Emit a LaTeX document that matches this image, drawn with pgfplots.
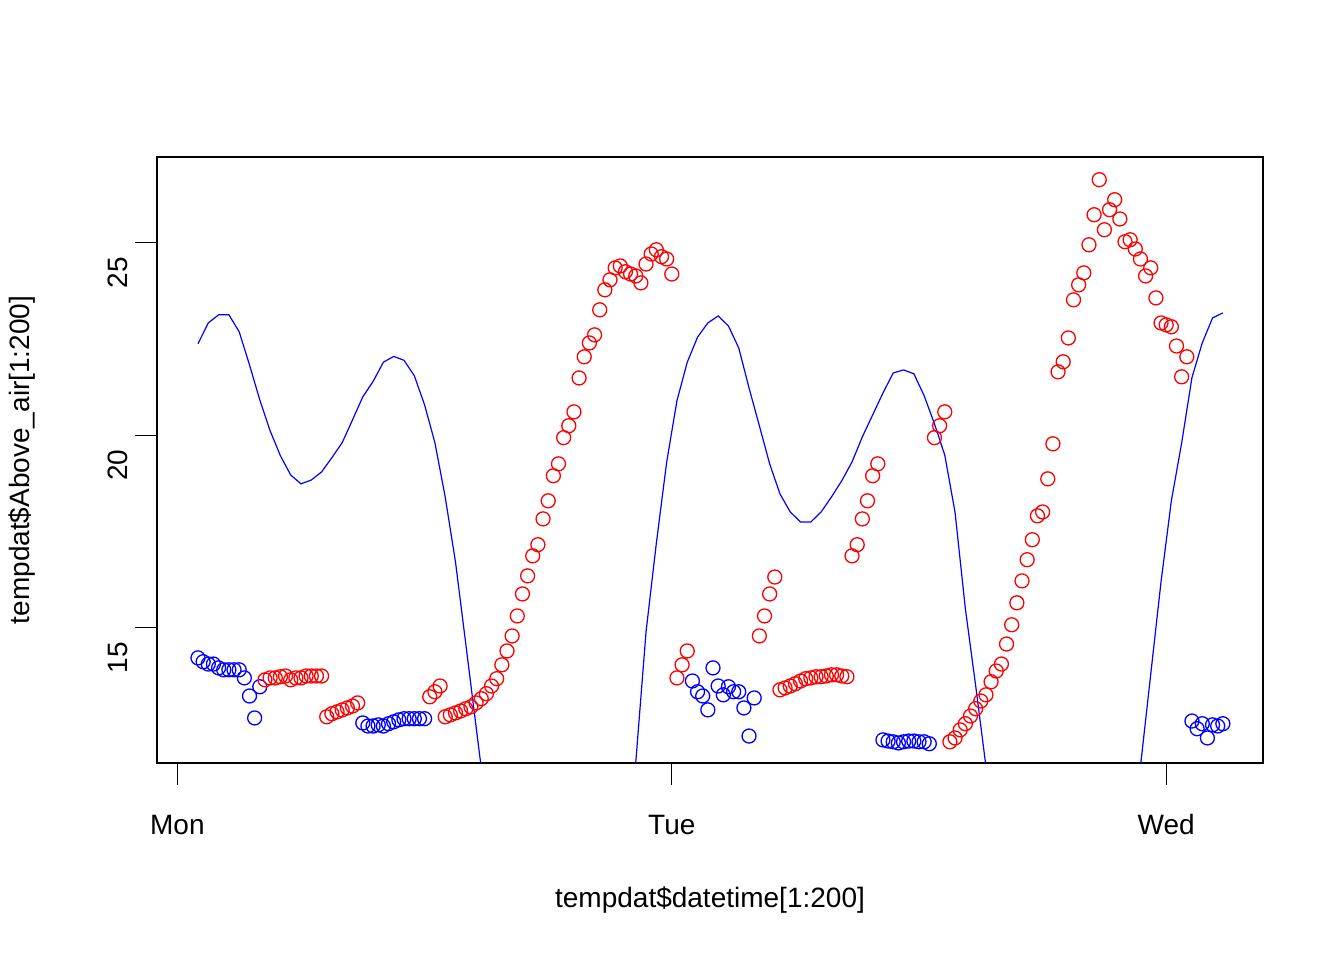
\documentclass[border=0pt]{standalone}
\usepackage{pgfplots}
\pgfplotsset{compat=1.18}
\usepackage{fontspec}
\setmainfont{Liberation Sans}
\begin{document}
\begin{tikzpicture}[x=1bp,y=1bp]
\path (0,0) rectangle (672,480);
\begin{axis}[at={(78.5bp,98.5bp)},anchor=south west,scale only axis,
 width=553bp,height=303bp,
 xmin=-7.96,xmax=206.8,ymin=11.49,ymax=27.23,
 axis line style={line width=0.6bp},
 xtick={-4,92,188},xticklabels={Mon,Tue,Wed},
 ytick={15,20,25},
 tick align=outside,major tick length=11bp,
 xtick pos=bottom,ytick pos=left,
 tick style={line width=0.6bp,black},
 /pgf/number format/assume math mode=true,
 ticklabel style={font=\fontsize{14bp}{16bp}\selectfont},
 xticklabel style={text height=10bp,text depth=0pt,yshift=-11bp},
 yticklabel style={rotate=90,anchor=south,xshift=-15bp},
 label style={font=\fontsize{14bp}{16bp}\selectfont},
 xlabel={tempdat\$datetime[1:200]},
 ylabel={tempdat\$Above\_air[1:200]},
 xlabel style={at={(axis description cs:0.5,0)},anchor=center,yshift=-68.5bp},
 ylabel style={at={(axis description cs:0,0.5)},anchor=center,yshift=67.5bp},
 clip=true]
\addplot[blue,line width=0.6bp] coordinates {
(0,22.38)(2,22.92)(4,23.13)(6,23.13)(8,22.69)(10,21.83)(12,20.92)(14,20.12)(16,19.47)(18,18.97)(20,18.74)(22,18.84)(24,19.05)(26,19.42)(28,19.81)(30,20.40)(32,21.00)(34,21.40)(36,21.90)(38,22.05)(40,21.95)(42,21.55)(44,20.79)(46,19.81)(48,18.40)(50,16.71)(52,14.58)(54,12.43)(56,10.3)(58,8.0)(62,5.0)(70,3.0)(78,5.0)(83,8.5)(85,11.5)(87,14.9)(89,17.2)(91,19.3)(93,20.9)(95,21.9)(97,22.55)(99,22.92)(101,23.10)(103,22.84)(105,22.27)(107,21.23)(109,20.25)(111,19.26)(113,18.48)(115,18.01)(117,17.75)(119,17.75)(121,18.01)(123,18.40)(125,18.82)(127,19.31)(129,19.96)(131,20.53)(133,21.10)(135,21.62)(137,21.70)(139,21.60)(141,21.03)(143,20.30)(145,19.49)(147,18.0)(149,15.5)(151,13.5)(153,11.4)(155,9.0)(160,5.0)(168,3.0)(176,5.0)(181,8.5)(183,11.4)(185,13.8)(187,16.2)(189,18.3)(191,19.8)(193,21.5)(195,22.4)(197,23.05)(199,23.18)};
\addplot[only marks,blue,mark=o,mark size=3.5bp,mark options={line width=0.65bp}] coordinates {
(0,14.22)(1,14.12)(2,14.06)(3,14.06)(4,13.96)(5,13.91)(6,13.91)(7,13.91)(8,13.91)(9,13.70)(10,13.23)(11,12.66)(12,13.47)
(32,12.53)(33,12.45)(34,12.45)(35,12.48)(36,12.45)(37,12.51)(38,12.56)(39,12.61)(40,12.64)(41,12.64)(42,12.64)(43,12.64)(44,12.64)
(96,13.62)(97,13.34)(98,13.23)(99,12.87)(100,13.96)(101,13.49)(102,13.26)(103,13.47)(104,13.34)(105,13.34)(106,12.92)(107,12.19)(108,13.18)
(133,12.09)(134,12.06)(135,12.04)(136,12.01)(137,12.04)(138,12.06)(139,12.06)(140,12.04)(141,12.04)(142,11.99)
(193,12.58)(194,12.38)(195,12.51)(196,12.14)(197,12.48)(198,12.45)(199,12.51)};
\addplot[only marks,red,mark=o,mark size=3.5bp,mark options={line width=0.65bp}] coordinates {
(13,13.65)(14,13.70)(15,13.70)(16,13.73)(17,13.75)(18,13.65)(19,13.70)(20,13.70)(21,13.75)(22,13.75)(23,13.75)(24,13.75)
(25,12.69)(26,12.77)(27,12.82)(28,12.87)(29,12.92)(30,12.97)(31,13.05)
(45,13.21)(46,13.34)(47,13.49)(48,12.69)(49,12.74)(50,12.79)(51,12.84)(52,12.90)(53,12.95)(54,13.05)(55,13.16)(56,13.29)(57,13.49)(58,13.68)(59,14.04)(60,14.40)(61,14.79)(62,15.31)(63,15.88)(64,16.35)(65,16.87)(66,17.16)(67,17.83)(68,18.30)(69,18.95)(70,19.26)(71,19.94)(72,20.25)(73,20.61)(74,21.49)(75,22.04)(76,22.40)(77,22.61)(78,23.26)(79,23.78)(80,24.04)(81,24.35)(82,24.40)(83,24.25)(84,24.19)(85,24.14)(86,23.96)(87,24.45)(88,24.71)(89,24.82)(90,24.64)(91,24.58)(92,24.19)
(93,13.70)(94,14.04)(95,14.40)
(109,14.79)(110,15.31)(111,15.88)(112,16.32)
(113,13.39)(114,13.44)(115,13.49)(116,13.55)(117,13.62)(118,13.68)(119,13.70)(120,13.73)(121,13.73)(122,13.75)(123,13.78)(124,13.78)(125,13.75)(126,13.73)
(127,16.87)(128,17.16)(129,17.83)(130,18.30)(131,18.95)(132,19.26)
(143,19.94)(144,20.25)(145,20.61)
(146,12.04)(147,12.14)(148,12.35)(149,12.51)(150,12.71)(151,12.90)(152,13.10)(153,13.26)(154,13.60)(155,13.88)(156,14.06)(157,14.58)(158,15.08)(159,15.65)(160,16.22)(161,16.77)(162,17.29)(163,17.91)(164,18.01)(165,18.87)(166,19.78)(167,21.65)(168,21.91)(169,22.53)(170,23.52)(171,23.91)(172,24.22)(173,24.95)(174,25.73)(175,26.64)(176,25.34)(177,25.86)(178,26.12)(179,25.62)(180,25.03)(181,25.08)(182,24.84)(183,24.58)(184,24.14)(185,24.35)(186,23.57)(187,22.92)(188,22.87)(189,22.82)(190,22.32)(191,21.52)(192,22.04)};
\end{axis}
\end{tikzpicture}
\end{document}
